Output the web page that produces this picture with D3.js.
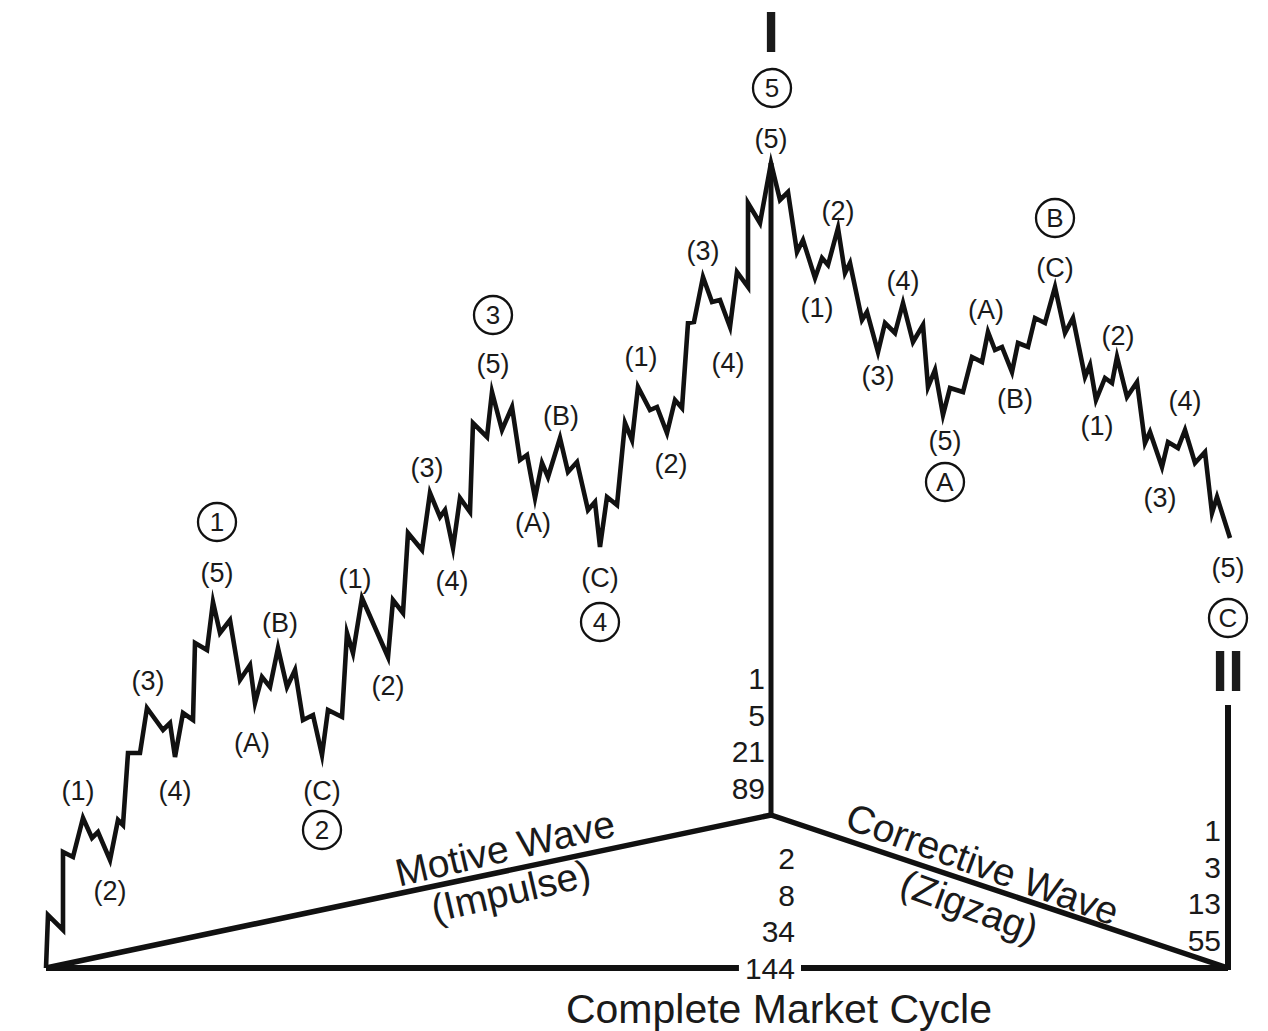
<!DOCTYPE html>
<html>
<head>
<meta charset="utf-8">
<script src="https://cdn.jsdelivr.net/npm/d3@7"></script>
<style>
  html, body { margin: 0; padding: 0; background: #fff; }
  svg { display: block; }
  text { font-family: "Liberation Sans", Arial, Helvetica, sans-serif; fill: #1a1a1a; }
</style>
</head>
<body>
<svg id="chart" width="1268" height="1031"></svg>
<script>
// ---- DATA (time, price) ----
const wave1 = [[0,0],[2,53],[17,38],[17,116],[27,111],[37,150],[46,130],[52,136],[64,108],[72,148],[77,143],[82,215],[94,215],[101,260],[117,238],[124,245],[129,211],[137,255],[147,248],[149,325],[161,318],[167,366]];
const wave2 = [[174,335],[184,348],[194,288],[204,303],[209,265],[216,291],[224,281],[232,320],[241,281],[249,298],[257,248],[267,253],[276,213]];
const wave3 = [[282,258],[296,251],[301,335],[307,315],[316,370],[342,311],[347,368],[357,355],[362,435],[376,418],[384,475],[394,451],[399,458],[407,420],[414,470],[424,456],[427,545],[441,531],[446,576]];
const wave4 = [[456,538],[466,561],[474,508],[481,513],[489,470],[496,505],[502,491],[514,530],[522,496],[531,506],[542,458],[549,466],[554,421]];
const wave5 = [[561,471],[571,463],[579,545],[586,528],[592,581],[604,558],[611,561],[621,535],[629,568],[636,560],[642,645],[648,646],[657,691],[666,666],[674,668],[684,641],[691,696],[702,681],[702,765],[714,745],[725,805]];
const waveA = [[734,768],[742,776],[751,716],[757,728],[769,690],[776,710],[782,703],[792,740],[799,695],[804,705],[816,648],[821,656],[832,616],[839,645],[849,635],[857,665],[867,626],[877,643],[882,581],[889,598],[897,553]];
const waveB = [[904,580],[917,576],[926,611],[936,606],[942,636],[949,618],[956,621],[966,596],[972,625],[982,621],[989,650],[999,645],[1009,681]];
const waveC = [[1019,635],[1027,650],[1039,591],[1044,603],[1050,568],[1059,590],[1066,585],[1071,611],[1081,571],[1091,586],[1099,525],[1104,536],[1116,501],[1122,526],[1132,520],[1139,538],[1149,505],[1159,516],[1166,455],[1171,471],[1184,430]];

// Cycle structure: start, top of motive wave, end of corrective wave
const cycleStart = [0, 0];
const cycleTop = [725, 153];
const cycleEnd = [1182, 0];
const motiveTopPrice = 805;
const correctiveMarkTop = 263;

// Wave labels: text, time, price (label centre)
const minorLabels = [
  ["(1)",32,178],["(2)",64,78],["(3)",102,288],["(4)",129,178],["(5)",171,396],
  ["(A)",206,226],["(B)",234,346],["(C)",276,178],
  ["(1)",309,390],["(2)",342,283],["(3)",381,501],["(4)",406,388],["(5)",447,605],
  ["(A)",487,446],["(B)",515,553],["(C)",554,391],
  ["(1)",595,612],["(2)",625,505],["(3)",657,718],["(4)",682,606],["(5)",725,830],
  ["(1)",771,661],["(2)",792,758],["(3)",832,593],["(4)",857,688],["(5)",899,528],
  ["(A)",940,659],["(B)",969,570],["(C)",1009,701],
  ["(1)",1051,543],["(2)",1072,633],["(3)",1114,471],["(4)",1139,568],["(5)",1182,401]
];
const circledLabels = [
  ["1",171,446],["2",276,138],["3",447,653],["4",554,346],["5",726,880],
  ["A",899,486],["B",1009,750],["C",1182,350]
];
const degreeLabels = [["I",725,937],["II",1182,298]];

const motiveCounts = ["1","5","21","89"];
const motiveBelowCounts = ["2","8","34","144"];
const correctiveCounts = ["1","3","13","55"];

const motiveTitle = ["Motive Wave","(Impulse)"];
const correctiveTitle = ["Corrective Wave","(Zigzag)"];
const cycleTitle = "Complete Market Cycle";

// ---- SCALES ----
const x = d3.scaleLinear().domain([0, 1182]).range([46, 1228]);
const y = d3.scaleLinear().domain([0, 805]).range([968, 163]);

const svg = d3.select("#chart");
const ink = "#111";

// ---- STRUCTURE LINES ----
const line = d3.line().x(d => x(d[0])).y(d => y(d[1]));

svg.append("path").attr("d", line([cycleStart, cycleEnd]))
  .attr("fill","none").attr("stroke",ink).attr("stroke-width",6);
svg.append("path").attr("d", line([cycleStart, cycleTop, cycleEnd]))
  .attr("fill","none").attr("stroke",ink).attr("stroke-width",5.5).attr("stroke-linejoin","miter");
svg.append("path").attr("d", line([[cycleTop[0], cycleTop[1]], [cycleTop[0], motiveTopPrice]]))
  .attr("fill","none").attr("stroke",ink).attr("stroke-width",5);
svg.append("path").attr("d", line([[cycleEnd[0], -2], [cycleEnd[0], correctiveMarkTop]]))
  .attr("fill","none").attr("stroke",ink).attr("stroke-width",6);

// ---- WAVE PATH ----
const allWave = [].concat(wave1, wave2, wave3, wave4, wave5, waveA, waveB, waveC);
svg.append("path").attr("d", line(allWave))
  .attr("fill","none").attr("stroke",ink).attr("stroke-width",4.6)
  .attr("stroke-linejoin","miter").attr("stroke-miterlimit",6);

// ---- LABELS ----
svg.selectAll("text.minor").data(minorLabels).join("text")
  .attr("class","minor")
  .attr("x", d => x(d[1])).attr("y", d => y(d[2]))
  .attr("dy","0.36em").attr("text-anchor","middle")
  .attr("font-size", 27).text(d => d[0]);

const circ = svg.selectAll("g.circ").data(circledLabels).join("g")
  .attr("class","circ")
  .attr("transform", d => `translate(${x(d[1])},${y(d[2])})`);
circ.append("circle").attr("r", 19).attr("fill","#fff").attr("stroke",ink).attr("stroke-width",2.3);
circ.append("text").attr("text-anchor","middle").attr("dy","0.36em")
  .attr("font-size", 26).text(d => d[0]);

svg.selectAll("text.degree").data(degreeLabels).join("text")
  .attr("class","degree")
  .attr("x", d => x(d[1])).attr("y", d => y(d[2]))
  .attr("dy","0.36em").attr("text-anchor","middle")
  .attr("font-weight","bold").attr("font-size", 58)
  .text(d => d[0]);

// Fibonacci counts
const rowH = 36.5;
svg.selectAll("text.mc").data(motiveCounts).join("text")
  .attr("x", x(cycleTop[0]) - 6)
  .attr("y", (d,i) => y(cycleTop[1]) - 27 - (motiveCounts.length - 1 - i) * rowH)
  .attr("dy","0.36em").attr("text-anchor","end").attr("font-size", 30).text(d => d);

const belowText = svg.selectAll("text.mb").data(motiveBelowCounts).join("text")
  .attr("x", x(cycleTop[0]) + 24)
  .attr("y", (d,i) => y(0) - (motiveBelowCounts.length - 1 - i) * rowH)
  .attr("dy","0.36em").attr("text-anchor","end").attr("font-size", 30).text(d => d);

const last = belowText.filter((d,i) => i === motiveBelowCounts.length - 1).node().getBBox();
svg.insert("rect", "text").attr("x", last.x - 6).attr("y", y(0) - 6)
  .attr("width", last.width + 12).attr("height", 12).attr("fill", "#fff");

svg.selectAll("text.cc").data(correctiveCounts).join("text")
  .attr("x", x(cycleEnd[0]) - 7)
  .attr("y", (d,i) => y(0) - 28 - (correctiveCounts.length - 1 - i) * rowH)
  .attr("dy","0.36em").attr("text-anchor","end").attr("font-size", 30).text(d => d);

// Diagonal titles
function diagTitle(p0, p1, frac, texts, offsets, extraAngle, fs) {
  const x0 = x(p0[0]), y0 = y(p0[1]), x1 = x(p1[0]), y1 = y(p1[1]);
  const ang = Math.atan2(y1 - y0, x1 - x0) * 180 / Math.PI + extraAngle;
  const cx = x0 + (x1 - x0) * frac, cy = y0 + (y1 - y0) * frac;
  const g = svg.append("g").attr("transform", `translate(${cx},${cy}) rotate(${ang})`);
  texts.forEach((t, i) => {
    g.append("text").attr("x", offsets[i][0]).attr("y", offsets[i][1])
      .attr("text-anchor","middle").attr("font-size", fs).text(t);
  });
}
diagTitle(cycleStart, cycleTop, 0.64, motiveTitle, [[0,-9],[-4,34]], -1.2, 39);
diagTitle(cycleTop, cycleEnd, 0.46, correctiveTitle, [[-6,-7],[-4,37]], 1.5, 39);

svg.append("text").attr("x", x(cycleTop[0]) + 8).attr("y", 1023)
  .attr("text-anchor","middle").attr("font-size", 41).text(cycleTitle);
</script>
</body>
</html>
